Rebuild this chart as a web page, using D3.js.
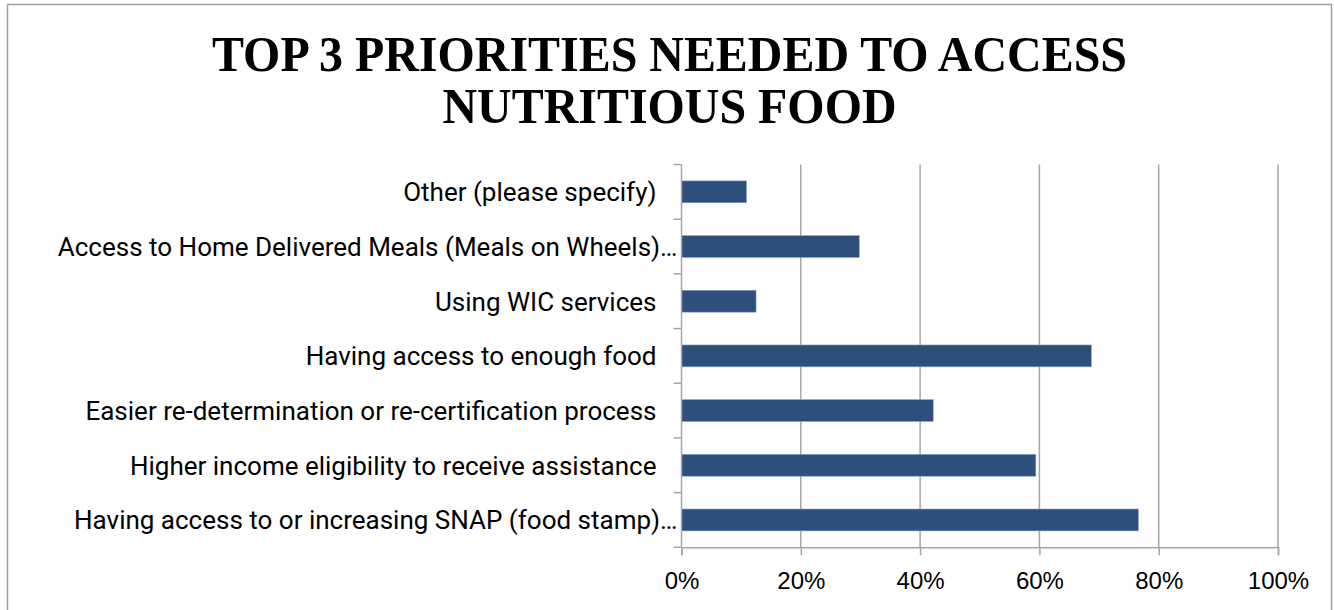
<!DOCTYPE html>
<html>
<head>
<meta charset="utf-8">
<script src="https://cdn.jsdelivr.net/npm/d3@7"></script>
<style>
  html, body { margin: 0; padding: 0; background: #fff; }
  svg { display: block; }
</style>
</head>
<body>
<svg id="chart" width="1334" height="610"></svg>
<script>
// Survey responses, listed top to bottom as they appear on the chart
const categories = [
  "Other (please specify)",
  "Access to Home Delivered Meals (Meals on Wheels)…",
  "Using WIC services",
  "Having access to enough food",
  "Easier re-determination or re-certification process",
  "Higher income eligibility to receive assistance",
  "Having access to or increasing SNAP (food stamp)…"
];
// Share of respondents choosing each priority (percent)
const shares = [10.9, 29.8, 12.5, 68.7, 42.2, 59.4, 76.6];
const tickValues = [0, 20, 40, 60, 80, 100];
const titleLines = ["TOP 3 PRIORITIES NEEDED TO ACCESS", "NUTRITIOUS FOOD"];

const data = categories.map((c, i) => ({ category: c, value: shares[i] }));

const svg = d3.select("#chart");
const plot = { left: 681.5, right: 1278, top: 164.5, bottom: 547.3 };

const gridColor = "#a6a6a6";
const barColor = "#2d4f7c";

// chart frame
svg.append("rect")
  .attr("x", 7.5).attr("y", 4.5)
  .attr("width", 1324).attr("height", 700)
  .attr("fill", "#fff")
  .attr("stroke", "#a0a0a0")
  .attr("stroke-width", 1.5);

// title (slightly condensed serif)
const title = svg.append("g")
  .attr("transform", "translate(669.5,0) scale(0.94,1)");
title.selectAll("text")
  .data(titleLines)
  .join("text")
  .attr("x", 0)
  .attr("y", (d, i) => i === 0 ? 70.7 : 123.3)
  .attr("text-anchor", "middle")
  .attr("font-family", "'Liberation Serif', 'Times New Roman', serif")
  .attr("font-weight", "bold")
  .attr("font-size", 51)
  .attr("fill", "#000")
  .text(d => d);

const x = d3.scaleLinear().domain([0, 100]).range([plot.left, plot.right]);
const y = d3.scaleBand()
  .domain(categories)
  .range([plot.top, plot.bottom])
  .paddingInner(0.6)
  .paddingOuter(0.3);
const step = y.step();

// vertical gridlines
svg.append("g")
  .selectAll("line")
  .data(tickValues.filter(v => v > 0))
  .join("line")
  .attr("x1", d => x(d)).attr("x2", d => x(d))
  .attr("y1", plot.top).attr("y2", plot.bottom)
  .attr("stroke", gridColor)
  .attr("stroke-width", 1.5);

// bars
svg.append("g")
  .selectAll("rect")
  .data(data)
  .join("rect")
  .attr("x", x(0))
  .attr("y", d => y(d.category))
  .attr("width", d => x(d.value) - x(0))
  .attr("height", y.bandwidth())
  .attr("fill", barColor)
  .attr("stroke", "#8aa3c9")
  .attr("stroke-width", 0.6);

// x axis
const xAxis = d3.axisBottom(x)
  .tickValues(tickValues)
  .tickFormat(d => d + "%")
  .tickSize(8)
  .tickPadding(10);
const gx = svg.append("g")
  .attr("transform", `translate(0,${plot.bottom})`)
  .call(xAxis);
gx.select(".domain").attr("stroke", gridColor).attr("stroke-width", 1.5);
gx.selectAll(".tick line").attr("stroke", gridColor).attr("stroke-width", 1.5);
gx.selectAll(".tick text")
  .attr("font-family", "'Liberation Sans', Arial, sans-serif")
  .attr("font-size", 24)
  .attr("fill", "#000")
  .attr("dy", 0)
  .attr("y", 589 - plot.bottom);

// y axis line with tick marks at band boundaries
const gy = svg.append("g");
gy.append("line")
  .attr("x1", plot.left).attr("x2", plot.left)
  .attr("y1", plot.top).attr("y2", plot.bottom)
  .attr("stroke", gridColor).attr("stroke-width", 1.5);
gy.selectAll("line.tick")
  .data(d3.range(categories.length + 1))
  .join("line")
  .attr("class", "tick")
  .attr("x1", plot.left - 8).attr("x2", plot.left)
  .attr("y1", i => plot.top + i * step)
  .attr("y2", i => plot.top + i * step)
  .attr("stroke", gridColor).attr("stroke-width", 1.5);

// category labels
svg.append("g")
  .selectAll("text")
  .data(categories)
  .join("text")
  .attr("x", d => d.endsWith("…") ? plot.left - 4 : plot.left - 25)
  .attr("y", d => y(d) + y.bandwidth() / 2 + 9.5)
  .attr("text-anchor", "end")
  .attr("font-family", "Roboto, sans-serif")
  .attr("font-size", 26)
  .attr("fill", "#000")
  .text(d => d);
</script>
</body>
</html>
